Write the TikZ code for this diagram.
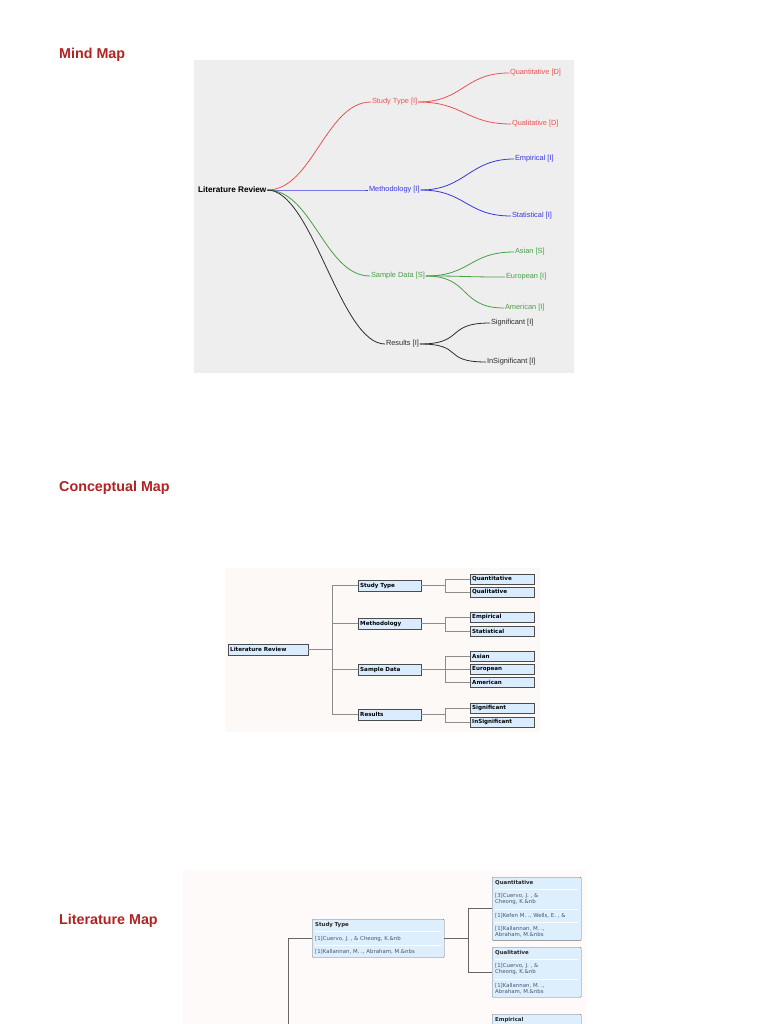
\documentclass[tikz,border=0pt]{standalone}
\usepackage{fontspec}
\setmainfont{Liberation Sans}
\newfontfamily\verdana{DejaVu Sans}
\usetikzlibrary{positioning}

\definecolor{headred}{RGB}{178,34,34}
\definecolor{mmback}{RGB}{238,238,238}
\definecolor{mmred}{RGB}{238,82,82}
\definecolor{mmblue}{RGB}{55,55,228}
\definecolor{mmgreen}{RGB}{70,160,70}
\definecolor{mmblack}{RGB}{45,45,45}
\definecolor{cmback}{RGB}{252,249,247}
\definecolor{cmblue}{RGB}{218,236,255}
\definecolor{cmline}{RGB}{140,140,140}
\definecolor{lmback}{RGB}{253,250,249}
\definecolor{lmblue}{RGB}{221,238,252}
\definecolor{lmtext}{RGB}{70,85,115}

\newcommand{\mmedge}[3]{\draw[#1, line width=0.8pt] (#2.east) .. controls +(45,0) and +(-45,0) .. (#3.west);}
\newcommand{\lmsep}{\par\vspace{3.9pt}{\color{white}\hrule height 0.7pt}\vspace{3.9pt}}
\newcommand{\lmhead}[1]{{\color{black!85}\bfseries #1}}

\begin{document}
\begin{tikzpicture}[x=1pt, y=-1pt,
	heading/.style={anchor=west, inner sep=0pt, text=headred, font=\bfseries\fontsize{14.3}{16}\selectfont},
	mmnode/.style={anchor=west, inner sep=0.8pt, font=\fontsize{7.4}{9}\selectfont},
	cmbox/.style={anchor=west, draw=black!70, fill=cmblue, align=left, inner xsep=2pt, inner ysep=1pt,
		minimum height=10.5pt, font=\verdana\bfseries\fontsize{5.6}{6}\selectfont},
	cmlink/.style={draw=cmline, line width=0.8pt},
	lmbox/.style={anchor=north west, draw=black!55, fill=lmblue, rounded corners=1pt, align=left,
		inner xsep=3pt, inner ysep=3pt, text=lmtext, font=\verdana\fontsize{5.4}{6.1}\selectfont},
	lmlink/.style={draw=black!60, line width=0.8pt}]
	\useasboundingbox (0,0) rectangle (768,1024);
	\clip (0,0) rectangle (768,1024);
	\fill[white] (0,0) rectangle (768,1024);

	% Headings:
	\node[heading] (hmind) at (59,55) {Mind Map};
	\node[heading] (hconc) at (59,488) {Conceptual Map};
	\node[heading] (hlit) at (59,921) {Literature Map};

	% Mind map:
	\fill[mmback] (194,60) rectangle (574,373);
	\node[mmnode, text=black, font=\bfseries\fontsize{8.2}{9}\selectfont] (mroot) at (197,190) {Literature Review};
	\node[mmnode, text=mmred] (mstudy) at (371,102) {Study Type [I]};
	\node[mmnode, text=mmblue] (mmeth) at (368,190) {Methodology [I]};
	\node[mmnode, text=mmgreen] (msample) at (370,276) {Sample Data [S]};
	\node[mmnode, text=mmblack] (mres) at (385,344) {Results [I]};
	\node[mmnode, text=mmred] (mquan) at (509,73) {Quantitative [D]};
	\node[mmnode, text=mmred] (mqual) at (511,124) {Qualitative [D]};
	\node[mmnode, text=mmblue] (memp) at (514,159) {Empirical [I]};
	\node[mmnode, text=mmblue] (mstat) at (511,216) {Statistical [I]};
	\node[mmnode, text=mmgreen] (masian) at (514,252) {Asian [S]};
	\node[mmnode, text=mmgreen] (meuro) at (505,277) {European [I]};
	\node[mmnode, text=mmgreen] (mamer) at (504,308) {American [I]};
	\node[mmnode, text=mmblack] (msig) at (490,323) {Significant [I]};
	\node[mmnode, text=mmblack] (minsig) at (486,362) {InSignificant [I]};
	\mmedge{mmred}{mroot}{mstudy}
	\mmedge{mmblue}{mroot}{mmeth}
	\mmedge{mmgreen}{mroot}{msample}
	\mmedge{mmblack}{mroot}{mres}
	\mmedge{mmred}{mstudy}{mquan}
	\mmedge{mmred}{mstudy}{mqual}
	\mmedge{mmblue}{mmeth}{memp}
	\mmedge{mmblue}{mmeth}{mstat}
	\mmedge{mmgreen}{msample}{masian}
	\mmedge{mmgreen}{msample}{meuro}
	\mmedge{mmgreen}{msample}{mamer}
	\mmedge{mmblack}{mres}{msig}
	\mmedge{mmblack}{mres}{minsig}

	% Conceptual map:
	\fill[cmback] (225,568) rectangle (540,732);
	\node[cmbox, text width=76pt] (clit) at (228,649.5) {Literature Review};
	\node[cmbox, text width=59pt] (cstudy) at (358,585.5) {Study Type};
	\node[cmbox, text width=59pt] (cmeth) at (358,623.5) {Methodology};
	\node[cmbox, text width=59pt] (csample) at (358,669.5) {Sample Data};
	\node[cmbox, text width=59pt] (cres) at (358,714.5) {Results};
	\node[cmbox, text width=60pt] (cquan) at (470,579) {Quantitative};
	\node[cmbox, text width=60pt] (cqual) at (470,592) {Qualitative};
	\node[cmbox, text width=60pt] (cemp) at (470,617) {Empirical};
	\node[cmbox, text width=60pt] (cstat) at (470,631) {Statistical};
	\node[cmbox, text width=60pt] (casian) at (470,656) {Asian};
	\node[cmbox, text width=60pt] (ceuro) at (470,669) {European};
	\node[cmbox, text width=60pt] (camer) at (470,682) {American};
	\node[cmbox, text width=60pt] (csig) at (470,708) {Significant};
	\node[cmbox, text width=60pt] (cinsig) at (470,722) {InSignificant};
	\draw[cmlink] (clit.east) -- ++(24,0) |- (cstudy.west);
	\draw[cmlink] (clit.east) -- ++(24,0) |- (cmeth.west);
	\draw[cmlink] (clit.east) -- ++(24,0) |- (csample.west);
	\draw[cmlink] (clit.east) -- ++(24,0) |- (cres.west);
	\draw[cmlink] (cstudy.east) -- ++(24,0) |- (cquan.west);
	\draw[cmlink] (cstudy.east) -- ++(24,0) |- (cqual.west);
	\draw[cmlink] (cmeth.east) -- ++(24,0) |- (cemp.west);
	\draw[cmlink] (cmeth.east) -- ++(24,0) |- (cstat.west);
	\draw[cmlink] (csample.east) -- ++(24,0) |- (casian.west);
	\draw[cmlink] (csample.east) -- ++(24,0) |- (ceuro.west);
	\draw[cmlink] (csample.east) -- ++(24,0) |- (camer.west);
	\draw[cmlink] (cres.east) -- ++(24,0) |- (csig.west);
	\draw[cmlink] (cres.east) -- ++(24,0) |- (cinsig.west);

	% Literature map:
	\fill[lmback] (183,870) rectangle (586,1024);
	\coordinate (ltrunk) at (288,1030);
	\node[lmbox, text width=126pt] (lstudy) at (312,919) {\lmhead{Study Type}\lmsep [1]Cuervo, J. , \& Cheong, K.\&nb\lmsep [1]Kallannan, M. ., Abraham, M.\&nbs};
	\node[lmbox, text width=83pt] (lquan) at (492,877) {\lmhead{Quantitative}\lmsep [3]Cuervo, J. , \&\\Cheong, K.\&nb\lmsep [1]Kefen M. ., Wells, E. , \&\lmsep [1]Kallannan, M. .,\\Abraham, M.\&nbs};
	\node[lmbox, text width=83pt] (lqual) at (492,947) {\lmhead{Qualitative}\lmsep [1]Cuervo, J. , \&\\Cheong, K.\&nb\lmsep [1]Kallannan, M. .,\\Abraham, M.\&nbs};
	\node[lmbox, text width=83pt] (lemp) at (492,1014) {\lmhead{Empirical}\par\vspace*{24pt}};
	\draw[lmlink] (lstudy.west) -| (ltrunk);
	\draw[lmlink] (lstudy.east) -- ++(24,0) |- (lquan.west);
	\draw[lmlink] (lstudy.east) -- ++(24,0) |- (lqual.west);
\end{tikzpicture}
\end{document}
